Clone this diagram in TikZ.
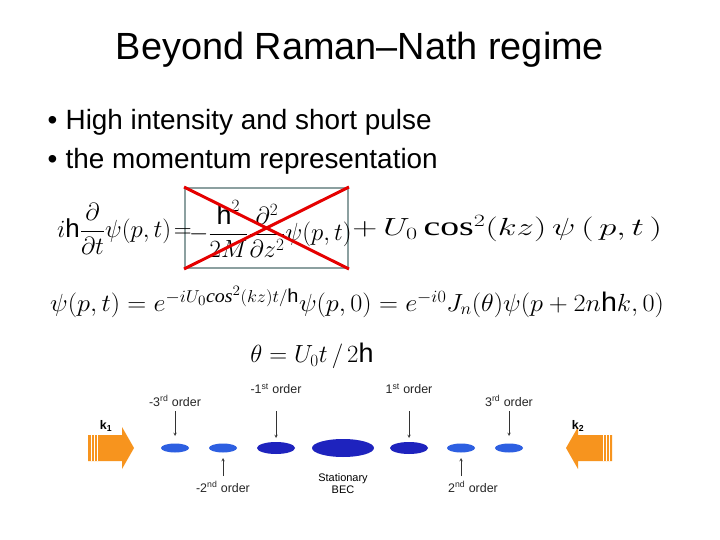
\documentclass[tikz,border=0pt]{standalone}
\usepackage{amsmath}
\usepackage{fontspec}
\setmainfont{Liberation Sans}
\newfontfamily\serifeq{Liberation Serif}
\newcommand{\hh}{\text{\rmfamily h}}
\newcommand{\mycos}{\text{\serifeq cos}}
\newcommand{\mycosi}{\text{\serifeq\itshape cos}}
\begin{document}
\begin{tikzpicture}[x=1bp,y=-1bp,
  lbl/.style={font=\fontsize{12.5}{13}\selectfont\color{black!85}},
  ord/.style={->,>=stealth,black!80,line width=0.5pt},
  eq/.style={font=\fontsize{27}{30}\selectfont,inner sep=0pt},
  orange/.style={fill={rgb,255:red,247;green,148;blue,30},draw=none}]
\useasboundingbox[fill=white] (0,0) rectangle (720,540);
\node (title) at (360,50) {\fontsize{38}{44}\selectfont Beyond Raman--Nath regime};
\node[anchor=west] (b1) at (44,122) {\fontsize{28}{32}\selectfont\textbullet\hspace{0.3em}High intensity and short pulse};
\node[anchor=west] (b2) at (44,161) {\fontsize{28}{32}\selectfont\textbullet\hspace{0.3em}the momentum representation};
% box
\node[draw={rgb,255:red,140;green,160;blue,160},line width=2pt,minimum width=163bp,minimum height=80bp] (box) at (266.5,228) {};
\node[eq,anchor=west,font=\fontsize{26}{30}\selectfont] (eq1a) at (57,229) {$i\hh\dfrac{\partial}{\partial t}\psi(p,t)\!=$};
\node[eq,anchor=west] (eq1b) at (189,229) {$-\dfrac{\hh^2}{2M}\dfrac{\partial^2}{\partial z^2}\psi(p,t)$};
\node[eq,anchor=west,xscale=1.4] (eq1c) at (352,229) {$+\,U_0\,\mycos^2(kz)\,\psi\,(\,p,t\,)$};
\draw[red!90!black,line width=3pt] (box.north west) -- (box.south east);
\draw[red!90!black,line width=3pt] (box.south west) -- (box.north east);
\node[eq,anchor=west,xscale=1.06] (eq2) at (50,302) {$\psi(p,t)=e^{-iU_0\mycosi^2(kz)t/\hh}\psi(p,0)=e^{-i0}J_n(\theta)\psi(p+2n\hh k,0)$};
\node[eq] (eq3) at (312,356) {$\theta=U_0t\,/\,2\hh$};
% clouds
\definecolor{lb}{RGB}{45,95,225}\definecolor{db}{RGB}{30,35,190}
\fill[lb] (175,448) ellipse (14 and 4.5);
\fill[lb] (223,448) ellipse (14 and 4.5);
\fill[db] (276,448) ellipse (19 and 6);
\fill[db] (343,448) ellipse (31 and 9);
\fill[db] (409,448) ellipse (19 and 6);
\fill[lb] (461,448) ellipse (14 and 4.5);
\fill[lb] (509,448) ellipse (14 and 4.5);
\node[lbl] (lm3) at (175,401) {-3\textsuperscript{rd} order};
\node[lbl] (lm1) at (276,389) {-1\textsuperscript{st} order};
\node[lbl] (lp1) at (409,389) {1\textsuperscript{st} order};
\node[lbl] (lp3) at (509,401) {3\textsuperscript{rd} order};
\node[lbl] (lm2) at (223,487) {-2\textsuperscript{nd} order};
\node[lbl] (lp2) at (473,487) {2\textsuperscript{nd} order};
\node[lbl,align=center,font=\fontsize{11}{12}\selectfont] (lc) at (343,484) {Stationary\\BEC};
\coordinate (am3s) at (175,411); \coordinate (am3) at (175,436);
\coordinate (am1s) at (276,411); \coordinate (am1) at (276,438);
\coordinate (ap1s) at (409,411); \coordinate (ap1) at (409,438);
\coordinate (ap3s) at (509,411); \coordinate (ap3) at (509,436);
\coordinate (am2s) at (223,476); \coordinate (am2) at (223,458);
\coordinate (ap2s) at (461,476); \coordinate (ap2) at (461,458);
\draw[ord] (am3s) -- (am3);
\draw[ord] (am1s) -- (am1);
\draw[ord] (ap1s) -- (ap1);
\draw[ord] (ap3s) -- (ap3);
\draw[ord] (am2s) -- (am2);
\draw[ord] (ap2s) -- (ap2);
% lasers
\fill[orange] (88,435) -- (122,435) -- (122,427) -- (134,448) -- (122,469) -- (122,461) -- (88,461) -- cycle;
\fill[orange] (612,435) -- (578,435) -- (578,427) -- (566,448) -- (578,469) -- (578,461) -- (612,461) -- cycle;
\foreach \x in {91,94,97} {\draw[white,line width=0.6pt] (\x,435) -- (\x,461);}
\foreach \x in {603,606,609} {\draw[white,line width=0.6pt] (\x,435) -- (\x,461);}
\node[lbl,font=\fontsize{12.5}{13}\bfseries] (k1) at (106,426) {k\textsubscript{1}};
\node[lbl,font=\fontsize{12.5}{13}\bfseries] (k2) at (578,426) {k\textsubscript{2}};
\end{tikzpicture}
\end{document}
